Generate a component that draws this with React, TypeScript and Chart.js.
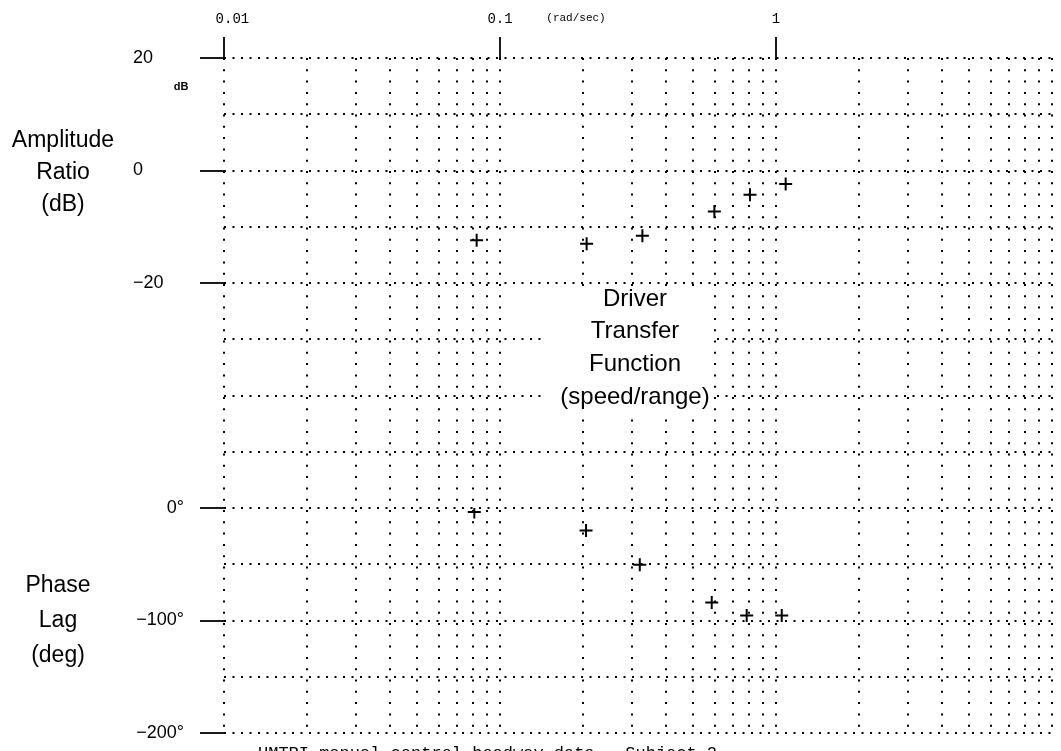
import React, { useEffect, useRef } from 'react';
import { Chart, registerables } from 'chart.js';

Chart.register(...registerables);

// ---- data ----
const AMP_FREQ = [0.0823, 0.206, 0.328, 0.598, 0.805, 1.084]; // rad/sec
const AMP_DB = [-12.4, -13.0, -11.6, -7.3, -4.3, -2.4]; // dB

const PHASE_FREQ = [0.0807, 0.205, 0.321, 0.585, 0.783, 1.049]; // rad/sec
const PHASE_DEG = [-3.5, -20, -50.5, -84, -95.5, -95.5]; // deg

// ---- axes ----
const X_GRID = [
  0.01, 0.02, 0.03, 0.04, 0.05, 0.06, 0.07, 0.08, 0.09,
  0.1, 0.2, 0.3, 0.4, 0.5, 0.6, 0.7, 0.8, 0.9,
  1, 2, 3, 4, 5, 6, 7, 8, 9, 10,
];
const X_LABEL_VALUES = [0.01, 0.1, 1];
const X_LABEL_TEXT = ['  0.01', '0.1', '1'];

const AMP_GRID = [20, 10, 0, -10, -20, -30, -40, -50];
const AMP_LABEL_VALUES = [20, 0, -20];
const AMP_LABEL_TEXT = ['20', '0', '−20'];

const PHASE_GRID = [0, -50, -100, -150, -200];
const PHASE_LABEL_VALUES = [0, -100, -200];
const PHASE_LABEL_TEXT = ['0°', '−100°', '−200°'];

const AMP_TITLE = ['Amplitude', 'Ratio', '(dB)'];
const PHASE_TITLE = ['Phase', 'Lag', '(deg)'];
const NOTE_LINES = ['Driver', 'Transfer', 'Function', '(speed/range)'];
const X_UNIT = '(rad/sec)';
const Y_UNIT = 'dB';
const CAPTION = 'UMTRI manual control headway data - Subject 2';

const find = (vals: number[], v: number) =>
  vals.findIndex((a) => Math.abs(a - v) < 1e-9 * Math.max(1, Math.abs(a)));

const SANS = '"Liberation Sans", Arial, sans-serif';
const MONO = '"Liberation Mono", "DejaVu Sans Mono", monospace';

const textPlugin = {
  id: 'bodeText',
  afterDraw(chart: any) {
    const ctx = chart.ctx as CanvasRenderingContext2D;
    ctx.save();
    ctx.fillStyle = '#000';
    ctx.textAlign = 'center';
    ctx.textBaseline = 'middle';

    ctx.font = `23px ${SANS}`;
    AMP_TITLE.forEach((t, i) => ctx.fillText(t, 63, 141 + i * 32));
    PHASE_TITLE.forEach((t, i) => ctx.fillText(t, 58, 586 + i * 35));

    ctx.font = `bold 11px ${SANS}`;
    ctx.fillText(Y_UNIT, 181, 87);

    ctx.font = `11px ${MONO}`;
    ctx.fillText(X_UNIT, 576, 18);

    // annotation with white backing
    ctx.fillStyle = '#fff';
    ctx.fillRect(542, 288, 172, 129);
    ctx.fillStyle = '#000';
    ctx.font = `24px ${SANS}`;
    NOTE_LINES.forEach((t, i) => ctx.fillText(t, 635, 299 + i * 32.7));

    ctx.textAlign = 'left';
    ctx.textBaseline = 'alphabetic';
    ctx.font = `17px ${MONO}`;
    ctx.fillText(CAPTION, 258, 758);
    ctx.restore();
  },
};

const gridCommon = {
  color: '#000',
  lineWidth: 2,
};

const fitY = (s: any) => {
  s.width = 91;
  s.paddingTop = 0;
  s.paddingBottom = 0;
};

export default function App() {
  const ref = useRef<HTMLCanvasElement | null>(null);

  useEffect(() => {
    if (!ref.current) return;
    const chart = new Chart(ref.current, {
      type: 'scatter',
      data: {
        datasets: [
          {
            label: 'Amplitude ratio',
            data: AMP_FREQ.map((f, i) => ({ x: f, y: AMP_DB[i] })),
            xAxisID: 'x',
            yAxisID: 'y',
            pointStyle: 'cross',
            pointRadius: 6.5,
            pointBorderWidth: 2,
            borderColor: '#000',
            backgroundColor: '#000',
            showLine: false,
          },
          {
            label: 'Phase lag',
            data: PHASE_FREQ.map((f, i) => ({ x: f, y: PHASE_DEG[i] })),
            xAxisID: 'x',
            yAxisID: 'y2',
            pointStyle: 'cross',
            pointRadius: 6.5,
            pointBorderWidth: 2,
            borderColor: '#000',
            backgroundColor: '#000',
            showLine: false,
          },
        ],
      },
      options: {
        responsive: false,
        animation: false,
        devicePixelRatio: 1,
        layout: { padding: { left: 133, right: 9, top: 0, bottom: 18 } },
        plugins: {
          legend: { display: false },
          tooltip: { enabled: false },
          title: { display: false },
        },
        scales: {
          x: {
            type: 'logarithmic',
            position: 'top',
            min: 0.01,
            max: 10,
            afterBuildTicks: (s: any) => {
              s.ticks = X_GRID.map((v) => ({ value: v, major: find(X_LABEL_VALUES, v) >= 0 }));
            },
            afterFit: (s: any) => {
              s.height = 58;
            },
            ticks: {
              autoSkip: false,
              maxRotation: 0,
              minRotation: 0,
              padding: 9,
              color: '#000',
              font: { family: MONO, size: 14 },
              callback: (v: any) => {
                const i = find(X_LABEL_VALUES, Number(v));
                return i >= 0 ? X_LABEL_TEXT[i] : '';
              },
            },
            grid: {
              ...gridCommon,
              tickLength: 21,
              tickWidth: 1.8,
              tickColor: (c: any) =>
                c.tick && find(X_LABEL_VALUES, c.tick.value) >= 0 ? '#000' : 'rgba(0,0,0,0)',
            },
            border: { display: false, dash: [2, 9.3] },
          },
          y2: {
            type: 'linear',
            position: 'left',
            stack: 'bode',
            stackWeight: 4,
            min: -200,
            max: 0,
            afterBuildTicks: (s: any) => {
              s.ticks = PHASE_GRID.map((v) => ({ value: v }));
            },
            afterFit: fitY,
            ticks: {
              autoSkip: false,
              crossAlign: 'near',
              padding: 16,
              color: '#000',
              font: { family: SANS, size: 18 },
              callback: (v: any) => {
                const i = find(PHASE_LABEL_VALUES, Number(v));
                return i >= 0 ? PHASE_LABEL_TEXT[i] : '';
              },
            },
            grid: {
              ...gridCommon,
              tickLength: 24,
              tickWidth: 1.8,
              tickColor: (c: any) =>
                c.tick && find(PHASE_LABEL_VALUES, c.tick.value) >= 0 ? '#000' : 'rgba(0,0,0,0)',
            },
            border: { display: false, dash: [2, 6.5] },
          },
          y: {
            type: 'linear',
            position: 'left',
            stack: 'bode',
            stackWeight: 8,
            min: -60,
            max: 20,
            afterBuildTicks: (s: any) => {
              s.ticks = AMP_GRID.map((v) => ({ value: v }));
            },
            afterFit: fitY,
            ticks: {
              autoSkip: false,
              crossAlign: 'far',
              padding: 16,
              color: '#000',
              font: { family: SANS, size: 18 },
              callback: (v: any) => {
                const i = find(AMP_LABEL_VALUES, Number(v));
                return i >= 0 ? AMP_LABEL_TEXT[i] : '';
              },
            },
            grid: {
              ...gridCommon,
              tickLength: 24,
              tickWidth: 1.8,
              tickColor: (c: any) =>
                c.tick && find(AMP_LABEL_VALUES, c.tick.value) >= 0 ? '#000' : 'rgba(0,0,0,0)',
            },
            border: { display: false, dash: [2, 6.5] },
          },
        },
      } as any,
      plugins: [textPlugin],
    });
    return () => chart.destroy();
  }, []);

  return (
    <div style={{ position: 'absolute', left: 0, top: 0, width: 1061, height: 751, background: '#fff' }}>
      <canvas ref={ref} width={1061} height={751} style={{ display: 'block' }} />
    </div>
  );
}
